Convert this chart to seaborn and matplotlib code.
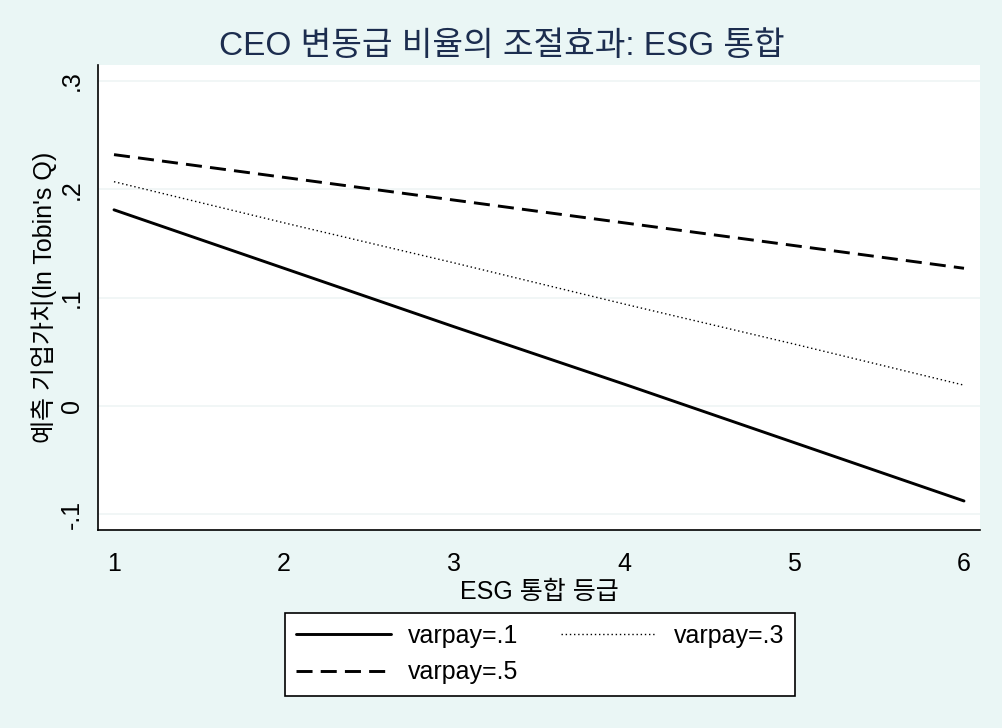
import matplotlib
matplotlib.use('Agg')
import matplotlib.pyplot as plt
import seaborn as sns
import pandas as pd

# values
esg_grade = [1, 2, 3, 4, 5, 6]
varpay_01 = [0.181, 0.127, 0.073, 0.020, -0.034, -0.088]
varpay_03 = [0.207, 0.169, 0.132, 0.094, 0.057, 0.019]
varpay_05 = [0.232, 0.211, 0.190, 0.169, 0.148, 0.127]
series_labels = ['varpay=.1', 'varpay=.3', 'varpay=.5']
y_ticks = [-0.1, 0.0, 0.1, 0.2, 0.3]
y_tick_labels = ['-.1', '0', '.1', '.2', '.3']

sns.set_style('white')
plt.rcParams['font.family'] = ['Liberation Sans', 'Noto Sans CJK KR', 'DejaVu Sans']
plt.rcParams['text.color'] = 'black'
plt.rcParams['axes.labelcolor'] = 'black'

bg = '#EAF6F5'
fig = plt.figure(figsize=(10.03, 7.28), dpi=100, facecolor=bg)
ax = fig.add_axes([98 / 1003, 1 - 530 / 728, 882 / 1003, 465 / 728])
ax.set_facecolor('white')

styles = [
    dict(linestyle='-', linewidth=2.1),
    dict(linestyle=(0, (1, 2.0)), linewidth=1.0),
    dict(linestyle=(0, (5.5, 2.8)), linewidth=2.1),
]
for vals, lab, st in zip([varpay_01, varpay_03, varpay_05], series_labels, styles):
    df = pd.DataFrame({'esg': esg_grade, 'pred': vals})
    sns.lineplot(data=df, x='esg', y='pred', ax=ax, color='black', label=lab, **st)

ax.set_xlim(1 - 16 / 170, 6 + 16 / 170)
ax.set_ylim(-0.1 - 16 / 1080, 0.3 + 16 / 1080)
ax.set_xticks(esg_grade)
ax.set_yticks(y_ticks)
ax.set_yticklabels(y_tick_labels, rotation=90, va='center')
ax.tick_params(axis='both', direction='out', length=7, width=1, labelsize=18, colors='black')
ax.tick_params(axis='x', pad=9)
ax.tick_params(axis='y', pad=3)
ax.yaxis.grid(True, color='#EFF5F5', linewidth=1.2)
ax.xaxis.grid(False)
for side in ['top', 'right']:
    ax.spines[side].set_visible(False)
for side in ['left', 'bottom']:
    ax.spines[side].set_color('black')
    ax.spines[side].set_linewidth(1.2)

ax.set_xlabel('ESG 통합 등급', fontsize=18, labelpad=3)
ax.set_ylabel("예측 기업가치(ln Tobin's Q)", fontsize=18)
ax.yaxis.set_label_coords(-0.047, 0.5)

fig.text(0.5, 1 - 47 / 728, 'CEO 변동급 비율의 조절효과: ESG 통합',
         ha='center', va='center', fontsize=24, color='#1C2D4F')

handles, labels = ax.get_legend_handles_labels()
ax.get_legend().remove()
order = [0, 2, 1]
leg = fig.legend([handles[i] for i in order], [labels[i] for i in order],
                 loc='center', bbox_to_anchor=(540 / 1003, 1 - 654 / 728),
                 ncol=2, fontsize=18, handlelength=3.8, columnspacing=1.7,
                 handletextpad=0.7, borderpad=0.45, labelspacing=0.5,
                 fancybox=False, framealpha=1, edgecolor='black', facecolor='white')
leg.get_frame().set_linewidth(1.2)

fig.savefig('out.png', dpi=100, facecolor=bg)
